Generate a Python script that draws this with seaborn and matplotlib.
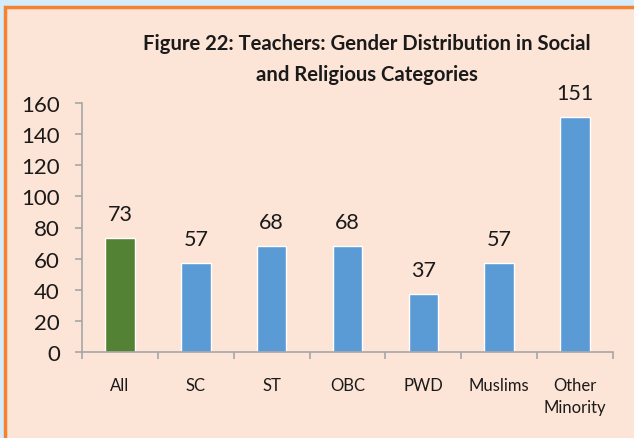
import matplotlib
matplotlib.use("Agg")
import matplotlib.pyplot as plt
import seaborn as sns
import pandas as pd
from matplotlib.patches import Rectangle
from matplotlib.ticker import FixedLocator

categories = ["All", "SC", "ST", "OBC", "PWD", "Muslims", "Other\nMinority"]
values = [73, 57, 68, 68, 37, 57, 151]
colors = ["#548235", "#5B9BD5", "#5B9BD5", "#5B9BD5", "#5B9BD5", "#5B9BD5", "#5B9BD5"]
title = "Figure 22: Teachers: Gender Distribution in Social\nand Religious Categories"
yticks = [0, 20, 40, 60, 80, 100, 120, 140, 160]

sns.set_theme(style="white")
plt.rcParams['font.family'] = ['Lato', 'DejaVu Sans']

W, H = 634, 439
fig = plt.figure(figsize=(W / 100, H / 100), dpi=100)
bg = "#FCE4D6"
fig.patch.set_facecolor("#D4ECF9")
# peach panel with orange border
fig.patches.append(Rectangle((5 / W, -0.1), 1.2, (H - 8) / H + 0.1, transform=fig.transFigure,
                             facecolor=bg, edgecolor="#F58233", linewidth=2.5, zorder=-10))

ax = fig.add_axes([82 / W, 1 - 353 / H, (613 - 82) / W, (353 - 104) / H])
ax.set_facecolor("none")
ax.set_zorder(1)

df = pd.DataFrame({"cat": categories, "val": values})
sns.barplot(data=df, x="cat", y="val", hue="cat", palette=colors, legend=False,
            width=0.39, saturation=1, ax=ax)

ax.set_ylim(0, 160)
ax.set_xlim(-0.5, len(categories) - 0.5)
ax.set_yticks(yticks)
ax.set_xlabel("")
ax.set_ylabel("")

for i, v in enumerate(values):
    ax.annotate(str(v), (i, v), xytext=(0, 17.5), textcoords="offset points",
                ha="center", va="center", fontsize=15.5, color="#1a1a1a")

for s in ["top", "right"]:
    ax.spines[s].set_visible(False)
for s in ["left", "bottom"]:
    ax.spines[s].set_color("#A6A6A6")
    ax.spines[s].set_linewidth(1.2)

ax.tick_params(axis="y", which="major", left=True, length=5, width=1.2, color="#A6A6A6",
               labelsize=16, labelcolor="#1a1a1a", pad=11)
ax.tick_params(axis="x", which="major", bottom=False, length=0, labelsize=12,
               labelcolor="#1a1a1a", pad=18)
ax.xaxis.set_minor_locator(FixedLocator([i - 0.5 for i in range(len(categories) + 1)]))
ax.tick_params(axis="x", which="minor", bottom=True, length=5, width=1.2, color="#A6A6A6")
for lbl in ax.get_xticklabels():
    lbl.set_linespacing(1.45)

fig.text(367 / W, 1 - 59.5 / H, title, ha="center", va="center", fontsize=14.6,
         fontweight="bold", color="#1a1a1a", linespacing=1.65)

fig.savefig("out.png", dpi=100, facecolor=fig.get_facecolor())
